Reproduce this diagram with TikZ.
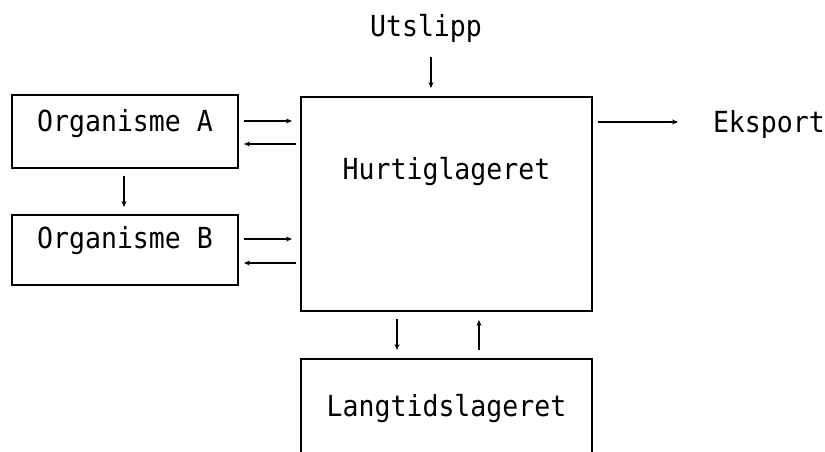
\documentclass[tikz,border=0pt]{standalone}
\usepackage{fontspec}
\newfontfamily\diafont{DejaVu Sans Mono}[FakeStretch=0.915]
\usetikzlibrary{arrows.meta}
\begin{document}
\begin{tikzpicture}[x=1pt,y=-1pt,
  every node/.style={font=\diafont\fontsize{29}{34}\selectfont, inner sep=0pt, outer sep=0pt},
  box/.style={draw, line width=1.7pt, anchor=north west, align=center},
  arr/.style={line width=1.2pt, -{Stealth[length=6pt,width=5pt]}}]
\useasboundingbox (0,0) rectangle (825,451);
\fill[white] (0,0) rectangle (825,451);
\node[box, minimum width=226pt, text height=36pt, text depth=37pt] (A) at (12,95) {Organisme A};
\node[box, minimum width=226pt, text height=33pt, text depth=37pt] (B) at (12,215) {Organisme B};
\node[box, minimum width=291pt, text height=82pt, text depth=132pt] (hurt) at (301,97) {Hurtiglageret};
\node[box, minimum width=291pt, text height=57pt, text depth=39pt] (lang) at (301,359) {Langtidslageret};
\node[anchor=base] (ut) at (426,36) {Utslipp};
\node[anchor=base west] (ek) at (713,132) {Eksport};
% A <-> hurt
\draw[arr, shorten <=6pt, shorten >=9pt] (A.east |- 0,121) -- (hurt.west |- 0,121);
\draw[arr, shorten <=5pt, shorten >=6pt] (hurt.west |- 0,144) -- (A.east |- 0,144);
% B <-> hurt
\draw[arr, shorten <=6pt, shorten >=9pt] (B.east |- 0,239) -- (hurt.west |- 0,239);
\draw[arr, shorten <=5pt, shorten >=6pt] (hurt.west |- 0,263) -- (A.east |- 0,263);
% A -> B
\draw[arr, shorten <=8pt, shorten >=8pt] (A.south -| 124,0) -- (B.north -| 124,0);
% Utslipp -> hurt
\draw[arr, shorten <=15pt, shorten >=9pt] (ut.south -| 431,0) -- (hurt.north -| 431,0);
% hurt <-> lang
\draw[arr, shorten <=8pt, shorten >=9pt] (hurt.south -| 397,0) -- (lang.north -| 397,0);
\draw[arr, shorten <=9pt, shorten >=9pt] (lang.north -| 479,0) -- (hurt.south -| 479,0);
% Eksport
\draw[arr, shorten <=6pt, shorten >=35pt] (hurt.east |- 0,122) -- (ek.west |- 0,122);
\end{tikzpicture}
\end{document}
